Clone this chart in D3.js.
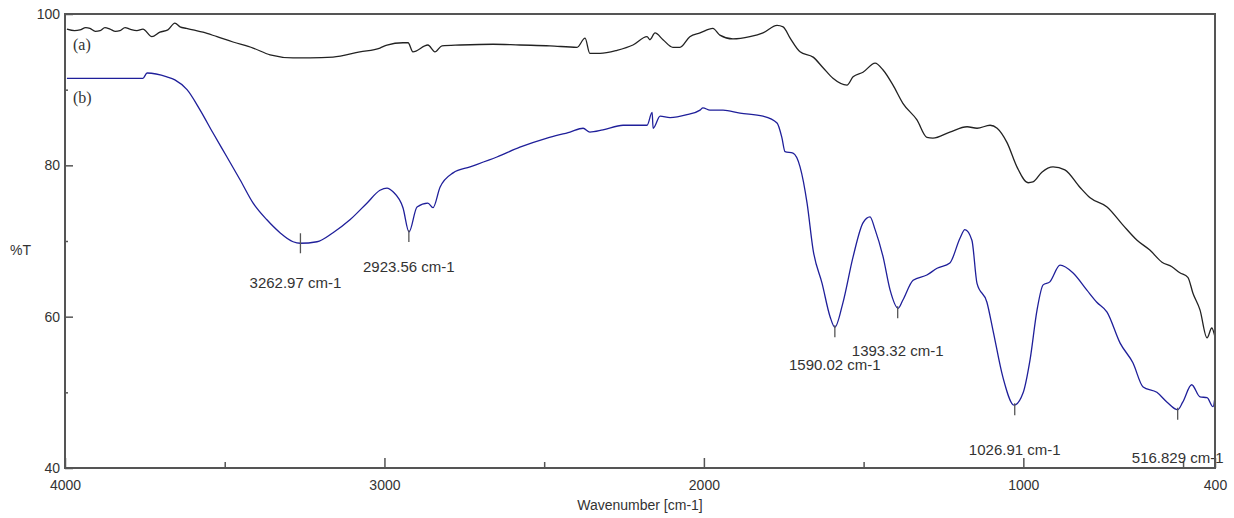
<!DOCTYPE html>
<html>
<head>
<meta charset="utf-8">
<script src="https://cdn.jsdelivr.net/npm/d3@7"></script>
<style>
  body { margin: 0; background: #fff; }
  text { font-family: Arial, "Liberation Sans", sans-serif; fill: #333; }
</style>
</head>
<body>
<div id="chart"></div>
<script>
// spectrum (a), [wavenumber, %T]
const seriesA = [[3994,98.0],[3970,97.8],[3953,97.9],[3935,98.2],[3922,98.1],[3905,97.7],[3890,97.8],[3875,98.2],
  [3859,98.0],[3842,97.7],[3828,97.8],[3812,98.2],[3797,98.0],[3775,97.8],[3756,98.0],
  [3728,97.0],[3703,97.6],[3678,97.9],[3656,98.8],[3640,98.3],[3620,98.1],[3599,97.9],[3568,97.6],[3524,97.0],[3474,96.3],
  [3411,95.5],[3358,94.6],[3286,94.2],[3233,94.2],[3161,94.3],[3077,95.0],[3014,95.5],[2992,95.9],[2942,96.2],
  [2926,96.2],[2911,95.0],[2864,95.9],[2842,95.0],[2820,95.8],[2763,95.9],[2660,96.0],[2576,95.9],[2482,95.8],
  [2397,95.6],[2372,96.8],[2357,94.8],[2325,94.8],[2272,95.2],[2222,95.9],[2178,97.0],[2169,96.6],[2153,97.5],
  [2128,96.6],[2097,95.6],[2075,95.6],[2044,97.0],[2012,97.5],[1972,98.1],[1950,97.2],[1909,96.7],[1856,97.0],
  [1815,97.5],[1771,98.5],[1752,98.3],[1730,96.8],[1699,95.0],[1658,94.3],[1627,92.9],[1596,91.5],[1552,90.6],
  [1533,91.7],[1502,92.3],[1464,93.5],[1439,92.6],[1408,90.6],[1377,88.2],[1333,86.0],[1302,83.7],[1283,83.6],
  [1230,84.4],[1176,85.1],[1145,84.9],[1104,85.3],[1082,84.9],[1051,83.0],[1020,79.8],[985,77.7],[970,77.8],
  [942,79.1],[907,79.8],[870,79.4],[823,77.1],[791,75.7],[738,74.5],[688,72.1],[644,70.1],[604,68.8],[566,67.2],
  [535,66.6],[510,65.8],[485,65.2],[469,63.1],[447,60.9],[425,57.2],[410,58.5],[400,57.3]];

// spectrum (b)
const seriesB = [[3994,91.5],[3900,91.5],[3800,91.5],[3756,91.5],[3743,92.2],[3681,91.7],[3656,91.3],[3618,90.0],
  [3577,87.3],[3537,84.3],[3493,81.1],[3452,78.1],[3411,75.0],[3368,72.8],[3327,71.1],[3286,69.9],[3264,69.7],
  [3211,69.9],[3161,71.1],[3108,72.8],[3055,75.0],[3014,76.7],[2992,77.0],[2973,76.5],[2942,74.4],[2923,71.2],
  [2898,74.5],[2864,75.0],[2848,74.4],[2826,77.1],[2785,79.0],[2732,79.8],[2648,81.1],[2576,82.4],[2491,83.6],
  [2419,84.4],[2378,84.9],[2357,84.4],[2316,84.7],[2253,85.3],[2178,85.3],[2162,87.0],[2159,84.9],[2137,86.5],
  [2106,86.3],[2053,86.7],[2012,87.3],[2003,87.6],[1981,87.3],[1940,87.3],[1887,86.9],[1815,86.5],[1771,85.6],
  [1756,83.7],[1746,81.8],[1721,81.6],[1699,79.8],[1677,75.0],[1658,68.8],[1630,64.4],[1605,60.0],[1590,58.6],
  [1565,61.8],[1533,67.9],[1502,72.4],[1480,73.2],[1464,71.5],[1439,67.9],[1417,63.5],[1392,61.1],[1377,62.2],
  [1345,64.8],[1302,65.5],[1270,66.4],[1230,67.1],[1198,70.4],[1183,71.5],[1161,70.1],[1145,64.4],[1114,61.9],
  [1095,58.2],[1064,52.0],[1029,48.3],[1001,49.9],[979,54.3],[957,60.9],[938,64.2],[917,64.6],[885,66.8],
  [845,65.8],[801,63.5],[770,61.9],[738,60.6],[697,56.5],[657,53.9],[625,50.7],[582,50.0],[550,48.7],[517,47.7],
  [501,48.7],[473,51.0],[447,49.4],[425,49.3],[406,48.1],[400,49.4]];

// marked peaks of (b): wavenumber, %T at the peak, label
const peakWn = [3262.97, 2923.56, 1590.02, 1393.32, 1026.91, 516.829];
const peakT = [69.7, 71.2, 58.6, 61.1, 48.3, 47.7];
const peakLabels = ["3262.97 cm-1", "2923.56 cm-1", "1590.02 cm-1", "1393.32 cm-1", "1026.91 cm-1", "516.829 cm-1"];

const xMajor = [4000, 3000, 2000, 1000, 400];
const xMinor = [3500, 2500, 1500, 500];
const yMajor = [40, 60, 80, 100];
const yMinor = [50, 70, 90];

const W = 1234, H = 518;
const margin = {top: 14, right: 19, bottom: 50, left: 65};

const svg = d3.select("#chart").append("svg")
  .attr("width", W).attr("height", H);

const x = d3.scaleLinear().domain([4000, 400]).range([margin.left, W - margin.right]);
const y = d3.scaleLinear().domain([40, 100]).range([H - margin.bottom, margin.top]);

// x axis
svg.append("g")
  .attr("transform", `translate(0,${y(40)})`)
  .call(d3.axisBottom(x).tickValues(xMajor).tickSize(-10).tickPadding(12).tickFormat(d3.format("d")))
  .call(g => g.select(".domain").remove())
  .call(g => g.selectAll("line").attr("stroke", "#555").attr("stroke-width", 1.5))
  .call(g => g.selectAll("text").style("font-size", "14px").attr("fill", "#333"));

svg.append("g")
  .attr("transform", `translate(0,${y(40)})`)
  .call(d3.axisBottom(x).tickValues(xMinor).tickSize(-6).tickFormat(""))
  .call(g => g.select(".domain").remove())
  .call(g => g.selectAll("line").attr("stroke", "#555").attr("stroke-width", 1.5));

// y axis
svg.append("g")
  .attr("transform", `translate(${x(4000)},0)`)
  .call(d3.axisLeft(y).tickValues(yMajor).tickSize(-8).tickPadding(5))
  .call(g => g.select(".domain").remove())
  .call(g => g.selectAll("line").attr("stroke", "#555").attr("stroke-width", 1.5))
  .call(g => g.selectAll("text").style("font-size", "14px").attr("fill", "#333"));

svg.append("g")
  .attr("transform", `translate(${x(4000)},0)`)
  .call(d3.axisLeft(y).tickValues(yMinor).tickSize(-3).tickFormat(""))
  .call(g => g.select(".domain").remove())
  .call(g => g.selectAll("line").attr("stroke", "#555").attr("stroke-width", 1.5));

// spectra
const line = d3.line().curve(d3.curveMonotoneX).x(d => x(d[0])).y(d => y(d[1]));

svg.append("path").datum(seriesA)
  .attr("fill", "none").attr("stroke", "#222").attr("stroke-width", 1.3)
  .attr("stroke-linejoin", "round").attr("d", line);

svg.append("path").datum(seriesB)
  .attr("fill", "none").attr("stroke", "#1f1f9a").attr("stroke-width", 1.3)
  .attr("stroke-linejoin", "round").attr("d", line);

// peak markers + labels
const labelDy = [45, 40, 43, 48, 50, 53];
peakWn.forEach(function (w, i) {
  const px = x(w), py = y(peakT[i]);
  svg.append("line")
    .attr("x1", px).attr("x2", px)
    .attr("y1", i === 0 ? py - 10 : py - 2)
    .attr("y2", py + 10)
    .attr("stroke", "#555").attr("stroke-width", 1.3);
  svg.append("text")
    .attr("x", px - (i === 0 ? 5 : 0))
    .attr("y", py + labelDy[i])
    .attr("text-anchor", "middle")
    .style("font-size", "15px")
    .text(peakLabels[i]);
});

// frame
svg.append("rect")
  .attr("x", x(4000)).attr("y", y(100))
  .attr("width", x(400) - x(4000)).attr("height", y(40) - y(100))
  .attr("fill", "none").attr("stroke", "#555").attr("stroke-width", 2);

// series labels
svg.append("text").attr("x", 73).attr("y", 50)
  .style("font-family", "'Liberation Serif', 'Times New Roman', serif")
  .style("font-size", "16px").text("(a)");
svg.append("text").attr("x", 73).attr("y", 103)
  .style("font-family", "'Liberation Serif', 'Times New Roman', serif")
  .style("font-size", "16px").text("(b)");

// axis titles
svg.append("text").attr("x", 10).attr("y", 255)
  .style("font-size", "14px").text("%T");
svg.append("text").attr("x", x(2200)).attr("y", 510)
  .attr("text-anchor", "middle")
  .style("font-size", "14px").text("Wavenumber [cm-1]");
</script>
</body>
</html>
